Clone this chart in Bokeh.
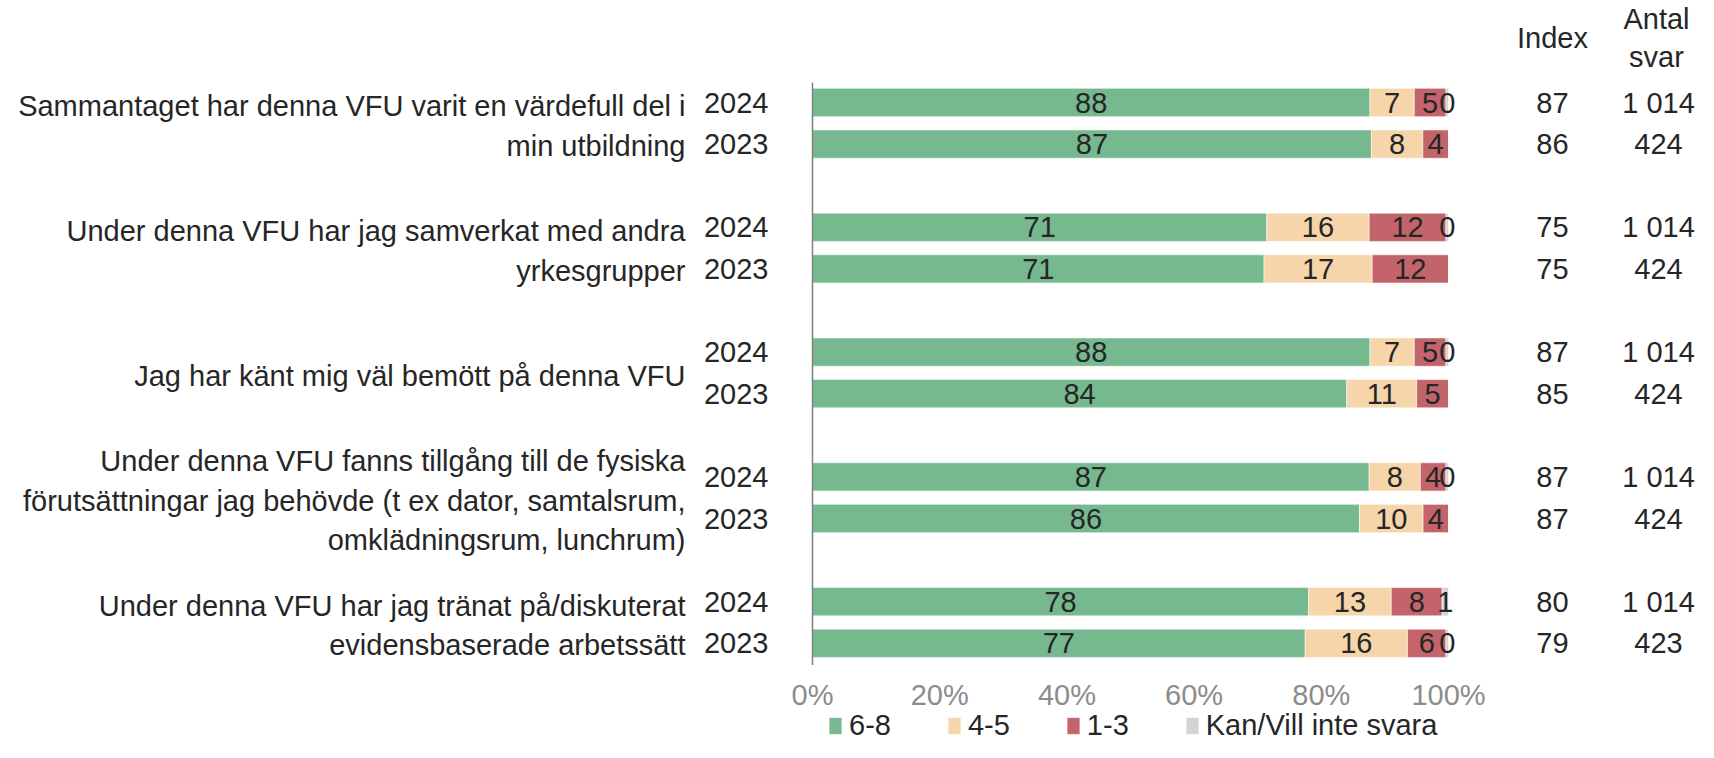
import numpy as np
from bokeh.plotting import figure
from bokeh.models import (ColumnDataSource, Range1d, FixedTicker, PrintfTickFormatter,
                          Legend, LegendItem)
from bokeh.core.properties import value
from bokeh.embed import file_html
from bokeh.resources import INLINE

questions = [
    "Sammantaget har denna VFU varit en värdefull del i\nmin utbildning",
    "Under denna VFU har jag samverkat med andra\nyrkesgrupper",
    "Jag har känt mig väl bemött på denna VFU",
    "Under denna VFU fanns tillgång till de fysiska\nförutsättningar jag behövde (t ex dator, samtalsrum,\nomklädningsrum, lunchrum)",
    "Under denna VFU har jag tränat på/diskuterat\nevidensbaserade arbetssätt",
]
years = ["2024", "2023"]
series = ["6-8", "4-5", "1-3", "Kan/Vill inte svara"]
colors = ["#76B98F", "#F5D5A9", "#C3646B", "#D3D3D3"]

v68_2024 = [88, 71, 88, 87, 78]
v45_2024 = [7, 16, 7, 8, 13]
v13_2024 = [5, 12, 5, 4, 8]
vkan_2024 = [0.4, 0.4, 0.4, 0.4, 1]
v68_2023 = [87, 71, 84, 86, 77]
v45_2023 = [8, 17, 11, 10, 16]
v13_2023 = [4, 12, 5, 4, 6]
vkan_2023 = [0, 0, 0, 0, 0.4]

index_2024 = [87, 75, 87, 87, 80]
index_2023 = [86, 75, 85, 87, 79]
antal_2024 = ["1 014", "1 014", "1 014", "1 014", "1 014"]
antal_2023 = ["424", "424", "424", "424", "423"]

FONT = value("Liberation Sans")
FS = "29px"
TXT = "#262626"

# rows: 2024 at 3g, 2023 at 3g+1
rows_y, rows_vals, rows_year, rows_idx, rows_ant = [], [], [], [], []
for g in range(len(questions)):
    rows_y += [3 * g, 3 * g + 1]
    rows_vals += [[v68_2024[g], v45_2024[g], v13_2024[g], vkan_2024[g]],
                  [v68_2023[g], v45_2023[g], v13_2023[g], vkan_2023[g]]]
    rows_year += years
    rows_idx += [str(index_2024[g]), str(index_2023[g])]
    rows_ant += [antal_2024[g], antal_2023[g]]

vals = np.array(rows_vals, dtype=float)
pct = vals / vals.sum(axis=1, keepdims=True) * 100
cum = np.cumsum(pct, axis=1)
lefts = cum - pct

PX_X = 636 / 100.0
PX_Y = 41.6
X0 = 812   # pixel of 0 %
Y0 = 102   # pixel of first bar row
W, H = 1698, 742
p = figure(width=W, height=H, output_backend="svg", toolbar_location=None,
           x_range=Range1d(-X0 / PX_X, 100 + (W - X0 - 636) / PX_X),
           y_range=Range1d((H - Y0) / PX_Y, -Y0 / PX_Y),
           y_axis_location=None, min_border_left=0, min_border_right=0,
           min_border_top=0, min_border_bottom=0)
p.outline_line_color = None
p.xgrid.visible = False
p.ygrid.visible = False

renderers = []
lab_x, lab_y, lab_t = [], [], []
for k, s in enumerate(series):
    src = ColumnDataSource(dict(y=rows_y, left=lefts[:, k], right=cum[:, k]))
    r = p.hbar(y="y", left="left", right="right", height=0.68, source=src,
               fill_color=colors[k], line_color="white", line_alpha=0.55, line_width=1)
    renderers.append(r)
    for i in range(len(rows_y)):
        if vals[i, k] > 0:
            lab_x.append((lefts[i, k] + cum[i, k]) / 2)
            lab_y.append(rows_y[i])
            lab_t.append(str(int(round(vals[i, k]))))

p.text(x=lab_x, y=lab_y, text=lab_t, text_align="center", text_baseline="middle",
       text_font=FONT, text_font_size=FS, text_color=TXT)

# vertical axis line at 0%
p.segment(x0=[0], y0=[-0.48], x1=[0], y1=[13.52], line_color="#7F7F7F", line_width=1.5)

# year labels
p.text(x=[0] * len(rows_y), y=rows_y, text=rows_year, x_offset=-44,
       text_align="right", text_baseline="middle",
       text_font=FONT, text_font_size=FS, text_color=TXT)

# question labels
p.text(x=[0] * len(questions), y=[3 * g + 0.5 for g in range(len(questions))],
       text=questions, x_offset=-127, y_offset=3, text_align="right", text_baseline="middle",
       text_font=FONT, text_font_size=FS, text_color=TXT, text_line_height=1.24)

# index and antal columns
p.text(x=[100] * len(rows_y), y=rows_y, text=rows_idx, x_offset=104,
       text_align="center", text_baseline="middle",
       text_font=FONT, text_font_size=FS, text_color=TXT)
p.text(x=[100] * len(rows_y), y=rows_y, text=rows_ant, x_offset=210,
       text_align="center", text_baseline="middle",
       text_font=FONT, text_font_size=FS, text_color=TXT)
p.text(x=[100], y=[-1.54], text=["Index"], x_offset=104,
       text_align="center", text_baseline="middle",
       text_font=FONT, text_font_size=FS, text_color=TXT)
p.text(x=[100], y=[-1.55], text=["Antal\nsvar"], x_offset=208,
       text_align="center", text_baseline="middle",
       text_font=FONT, text_font_size=FS, text_color=TXT, text_line_height=1.2)

ax = p.xaxis[0]
ax.fixed_location = (664 - Y0) / PX_Y
ax.ticker = FixedTicker(ticks=[0, 20, 40, 60, 80, 100])
ax.formatter = PrintfTickFormatter(format="%d%%")
ax.axis_line_color = None
ax.major_tick_line_color = None
ax.minor_tick_line_color = None
ax.major_tick_out = 0
ax.major_tick_in = 0
ax.major_label_standoff = 14
ax.major_label_text_font = "Liberation Sans"
ax.major_label_text_font_size = FS
ax.major_label_text_color = "#8C8C8C"

legend = Legend(items=[LegendItem(label=s, renderers=[renderers[k]]) for k, s in enumerate(series)],
                orientation="horizontal", location=(827, 0),
                glyph_width=16, glyph_height=21, label_standoff=6, spacing=55,
                padding=0, margin=0, border_line_color=None, background_fill_alpha=0,
                label_text_font="Liberation Sans", label_text_font_size=FS,
                label_text_color=TXT)
p.add_layout(legend, "center")

open("out.html", "w").write(file_html(p, INLINE))
